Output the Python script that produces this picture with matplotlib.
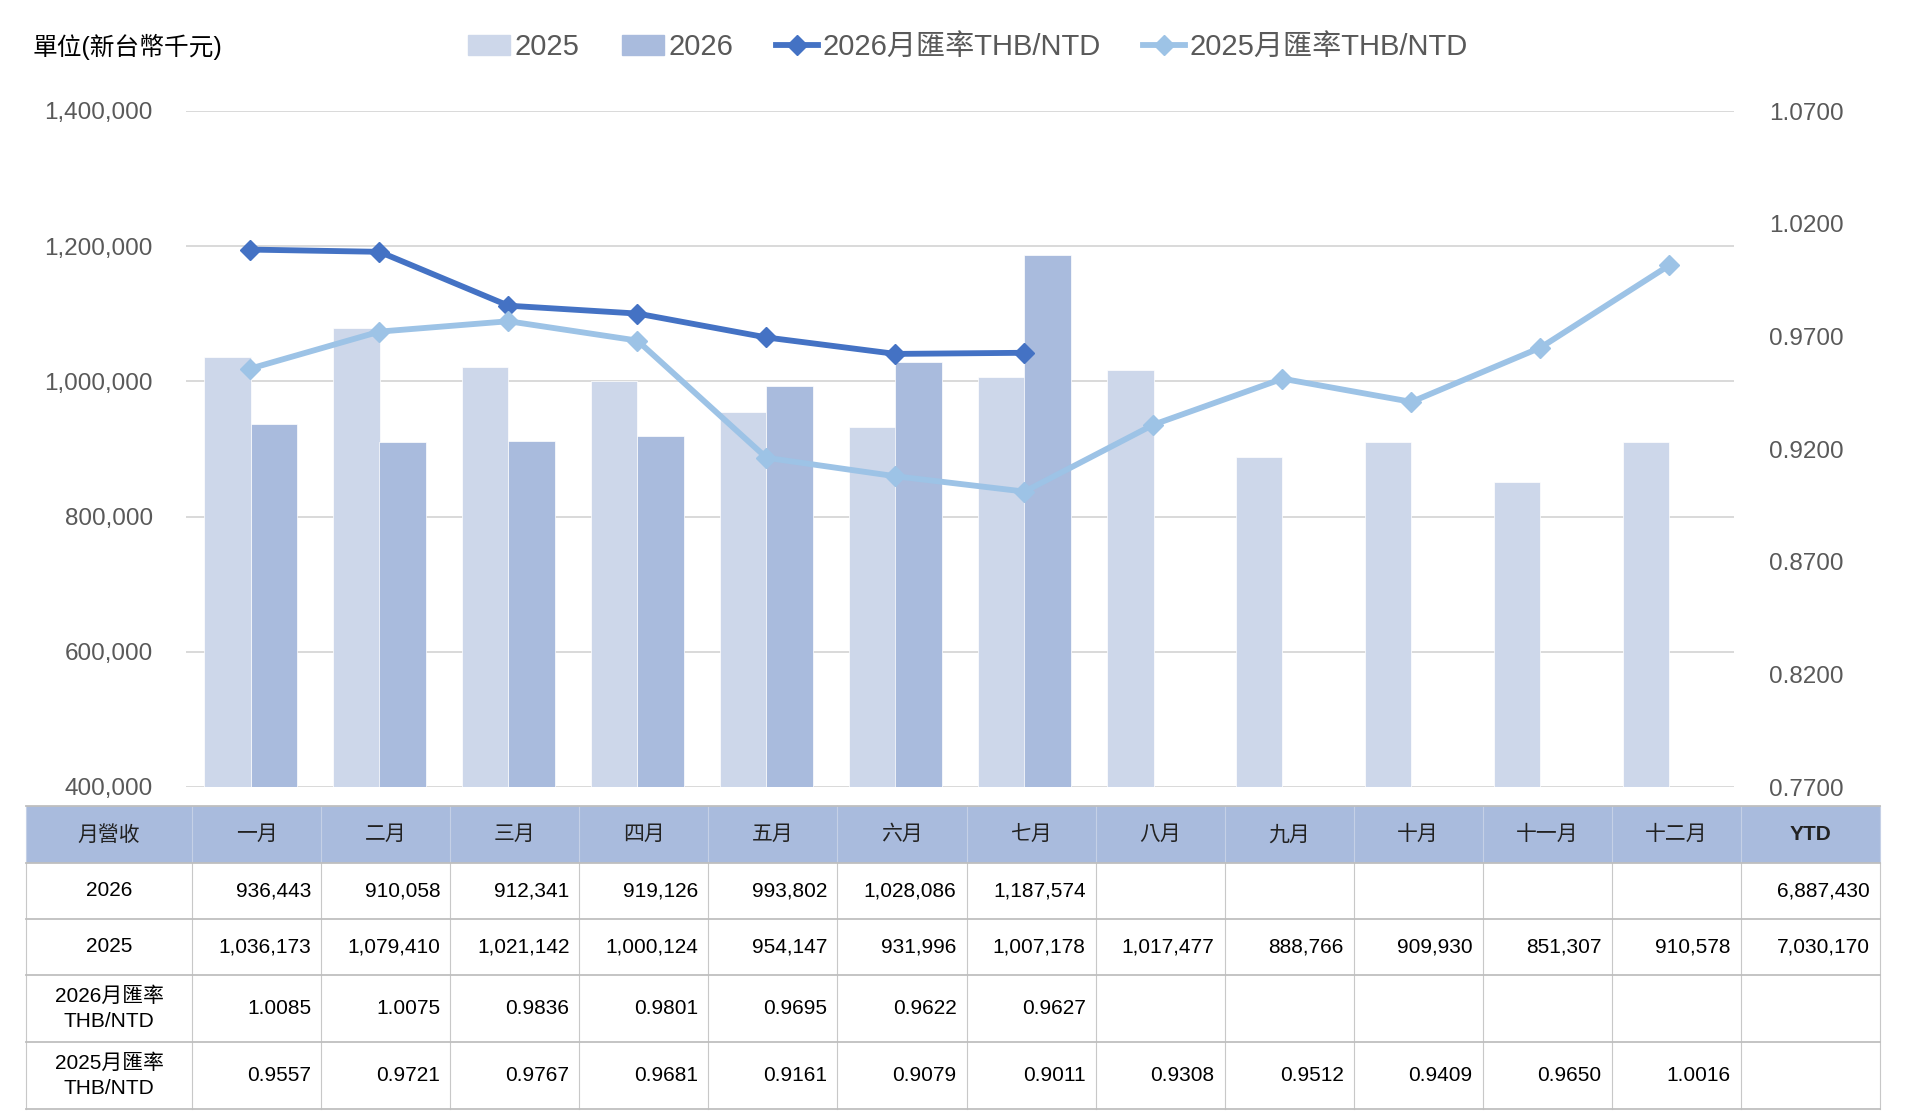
import numpy as np
import matplotlib.pyplot as plt
from matplotlib.patches import Rectangle, Patch
from matplotlib.lines import Line2D

# 資料
months = ['一月', '二月', '三月', '四月', '五月', '六月',
          '七月', '八月', '九月', '十月', '十一月', '十二月']
rev_2026 = [936443, 910058, 912341, 919126, 993802, 1028086, 1187574]
rev_2025 = [1036173, 1079410, 1021142, 1000124, 954147, 931996, 1007178,
            1017477, 888766, 909930, 851307, 910578]
rate_2026 = [1.0085, 1.0075, 0.9836, 0.9801, 0.9695, 0.9622, 0.9627]
rate_2025 = [0.9557, 0.9721, 0.9767, 0.9681, 0.9161, 0.9079, 0.9011,
             0.9308, 0.9512, 0.9409, 0.9650, 1.0016]
ytd_2026 = sum(rev_2026)
ytd_2025 = sum(rev_2025[:len(rev_2026)])

plt.rcParams['font.family'] = ['Liberation Sans', 'Noto Sans CJK TC', 'DejaVu Sans']

W, H = 1908, 1111
fig = plt.figure(figsize=(W / 100, H / 100), dpi=100)

# 圖表區 (像素)
px_l, px_r, px_t, px_b = 186, 1734, 111, 787
ax = fig.add_axes([px_l / W, 1 - px_b / H, (px_r - px_l) / W, (px_b - px_t) / H])

c_2025 = '#CDD7EA'
c_2026 = '#A9BBDD'
c_l26 = '#4472C4'
c_l25 = '#9DC3E6'

x = np.arange(len(months))
w = 0.36
ax.bar(x - w / 2, rev_2025, w, color=c_2025, edgecolor='white', linewidth=0.5, zorder=2)
ax.bar(x[:len(rev_2026)] + w / 2, rev_2026, w, color=c_2026, edgecolor='white', linewidth=0.5, zorder=2)
ax.set_xlim(-0.5, len(months) - 0.5)
ax.set_ylim(400000, 1400000)
ax.set_yticks(np.arange(400000, 1400001, 200000))
ax.set_yticklabels([f'{v:,}' for v in range(400000, 1400001, 200000)])
ax.grid(axis='y', color='#D9D9D9', linewidth=1.4, zorder=0)
ax.set_axisbelow(True)
ax.set_xticks([])
ax.tick_params(axis='y', length=0, pad=24, labelsize=17.5, labelcolor='#595959')
for s in ax.spines.values():
    s.set_visible(False)

ax2 = ax.twinx()
ax2.plot(x[:len(rate_2026)], rate_2026, color=c_l26, lw=4.2, marker='D', ms=10, zorder=3)
ax2.plot(x, rate_2025, color=c_l25, lw=4.2, marker='D', ms=10, zorder=3)
ax2.set_ylim(0.77, 1.07)
ax2.set_yticks(np.arange(0.77, 1.0701, 0.05))
ax2.set_yticklabels([f'{v:.4f}' for v in np.arange(0.77, 1.0701, 0.05)])
ax2.tick_params(axis='y', length=0, pad=25, labelsize=17.5, labelcolor='#595959')
for s in ax2.spines.values():
    s.set_visible(False)

# 圖例
handles = [Patch(color=c_2025), Patch(color=c_2026),
           Line2D([], [], color=c_l26, lw=4.2, marker='D', ms=10),
           Line2D([], [], color=c_l25, lw=4.2, marker='D', ms=10)]
labels = ['2025', '2026', '2026月匯率THB/NTD', '2025月匯率THB/NTD']
leg = fig.legend(handles, labels, loc='center', bbox_to_anchor=(968 / W, 1 - 47 / H),
                 ncol=4, frameon=False, fontsize=21, handlelength=1.45,
                 handletextpad=0.15, columnspacing=1.45, labelcolor='#595959')

fig.text(33 / W, 1 - 47 / H, '單位(新台幣千元)', fontsize=17.8, va='center', ha='left', color='black')

# 表格
tb = fig.add_axes([0, 0, 1, 1])
tb.set_xlim(0, W)
tb.set_ylim(H, 0)
tb.axis('off')

col_x = [26, 192.3] + [192.3 + 129.04 * (k + 1) for k in range(12)] + [1880]
row_y = [806, 863, 919, 975, 1042, 1109]

tb.add_patch(Rectangle((col_x[0], row_y[0]), col_x[-1] - col_x[0], row_y[1] - row_y[0],
                       facecolor='#A9BBDD', edgecolor='none'))
for cx in col_x:
    tb.plot([cx, cx], [row_y[0], row_y[1]], color='#C5D0E6', lw=0.8)
    tb.plot([cx, cx], [row_y[1], row_y[-1]], color='#C8C8C8', lw=0.8)
for ry in row_y:
    tb.plot([col_x[0], col_x[-1]], [ry, ry], color='#BFBFBF', lw=1.3)

fs = 15
header = ['月營收'] + months + ['YTD']
for i, t in enumerate(header):
    cx = (col_x[i] + col_x[i + 1]) / 2
    tb.text(cx, (row_y[0] + row_y[1]) / 2, t, ha='center', va='center', fontsize=fs,
            color='#222222', fontweight='bold' if t == 'YTD' else 'normal')

row_names = ['2026', '2025', '2026月匯率\nTHB/NTD', '2025月匯率\nTHB/NTD']
row_vals = [
    [f'{v:,}' for v in rev_2026] + [''] * (12 - len(rev_2026)) + [f'{ytd_2026:,}'],
    [f'{v:,}' for v in rev_2025] + [f'{ytd_2025:,}'],
    [f'{v:.4f}' for v in rate_2026] + [''] * (12 - len(rate_2026)) + [''],
    [f'{v:.4f}' for v in rate_2025] + [''],
]
for r, (name, vals) in enumerate(zip(row_names, row_vals)):
    cy = (row_y[r + 1] + row_y[r + 2]) / 2
    tb.text((col_x[0] + col_x[1]) / 2, cy, name, ha='center', va='center', fontsize=fs,
            linespacing=1.45, color='black')
    for j, v in enumerate(vals):
        tb.text(col_x[j + 2] - 10, cy, v, ha='right', va='center', fontsize=fs, color='black')

fig.savefig('out.png', dpi=100)
